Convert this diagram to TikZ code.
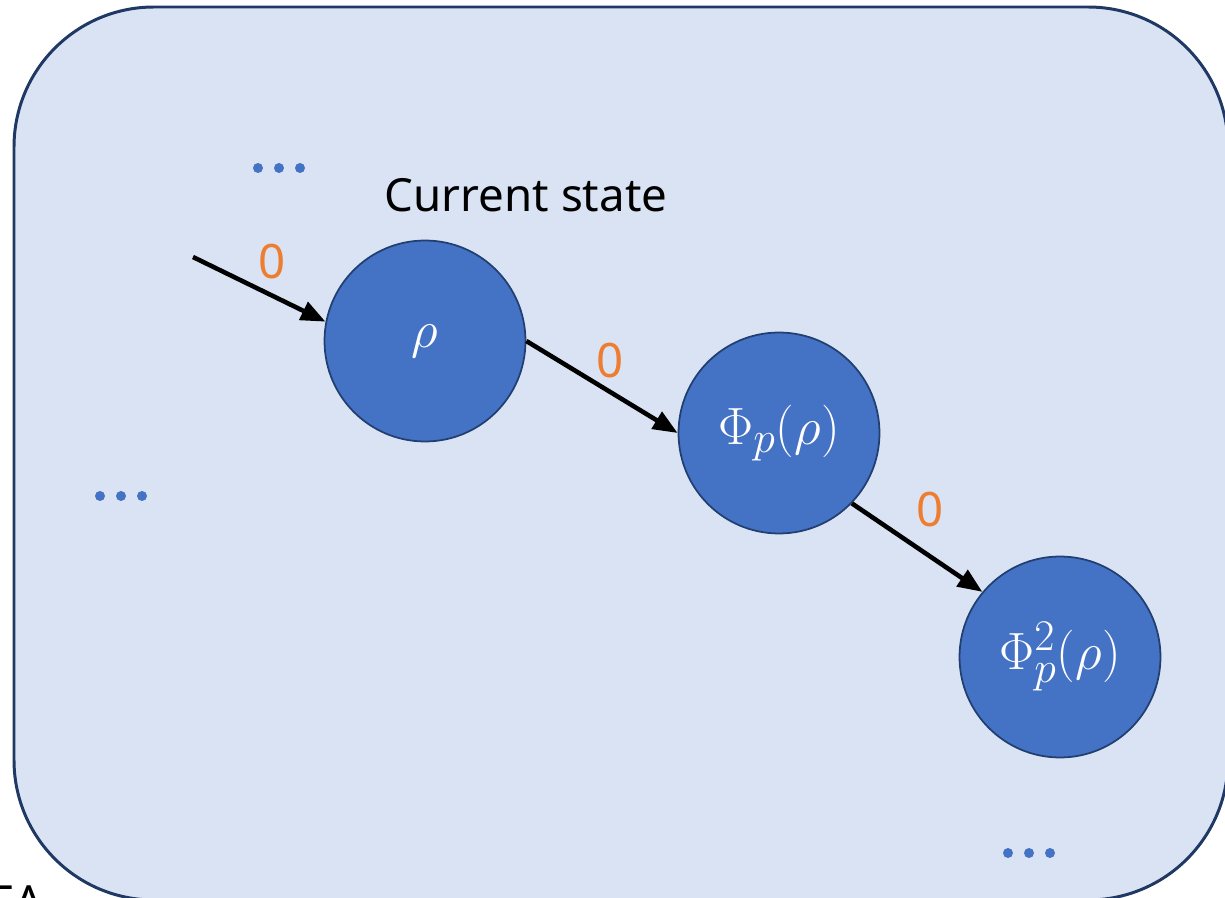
\documentclass[tikz,border=0pt]{standalone}
\usepackage{amsmath}
\usepackage{fontspec}
\setmainfont{Noto Sans}
\usepackage{xcolor}
\usepackage{tikz}
\usetikzlibrary{arrows.meta, positioning}

\definecolor{boxfill}{HTML}{DAE3F3}
\definecolor{boxline}{HTML}{1F3864}
\definecolor{statefill}{HTML}{4472C4}
\definecolor{stateline}{HTML}{223F72}
\definecolor{zeroorange}{HTML}{ED7D31}

\tikzset{
  state/.style={circle, draw=stateline, line width=1pt, fill=statefill, text=white,
    minimum size=4.02cm, inner sep=0pt, font=\fontsize{24.88}{30}\selectfont},
  zero/.style={text=zeroorange, font=\fontsize{27}{32}\selectfont},
  trans/.style={-{Triangle[length=14pt, width=11pt]}, line width=2.6pt},
  bigtext/.style={font=\fontsize{26}{32}\selectfont},
}

\begin{document}
\begin{tikzpicture}[x=0.02cm, y=-0.02cm, >=Stealth]
  \useasboundingbox (0,0) rectangle (1225,898);
  \clip (0,0) rectangle (1225,898);
  \draw[boxline, fill=boxfill, line width=1.7pt, rounded corners=2.8cm] (14,7) rectangle (1228,900);

  \node[state] (rho) at (425,341) {\scalebox{1.2}{$\rho$}};
  \node[state] (phi) at (779,433) {\scalebox{1.2}{$\Phi_p(\rho)$}};
  \node[state] (phisq) at (1060,657) {\scalebox{1.2}{$\Phi_p^2(\rho)$}};
  \node[bigtext] (cur) at (526,195) {Current state};
  \node[bigtext, anchor=north west, inner sep=0pt] (ea) at (-11,885) {EA};

  \coordinate (in) at (193,257);
  \draw[trans] (in) -- node[zero, pos=0.6, above=5pt] {0} (rho.169);
  \draw[trans] (rho.east) -- node[zero, pos=0.55, above=3pt] {0} (phi.west);
  \draw[trans] (phi.-44) -- node[zero, pos=0.6, above=12pt] {0} (phisq.140);

  % dots
  \foreach \x/\y in {258/168, 100/496, 1008/853}
    \foreach \d in {0,21,42}
      \fill[statefill] (\x+\d,\y) circle (5);
\end{tikzpicture}
\end{document}
